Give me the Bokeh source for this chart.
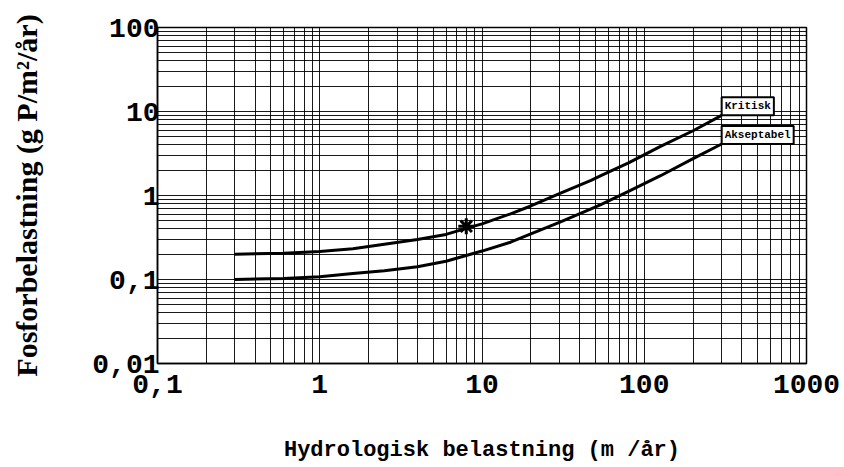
from bokeh.plotting import figure
from bokeh.models import FixedTicker, CustomJSTickFormatter, Label
from bokeh.embed import file_html
from bokeh.resources import INLINE

# Hydraulic load (m/år)
hyd_load = [0.3, 0.6, 1.0, 1.6, 2.5, 4.0, 6.0, 8.5, 10.0, 15.0, 20.0, 30.0, 47.0, 54.0, 80.0, 126.0, 200.0, 300.0]
# Critical phosphorus load (g P/m2/år)
kritisk = [0.20, 0.205, 0.215, 0.232, 0.263, 0.30, 0.344, 0.42, 0.46, 0.605, 0.75, 1.05, 1.51, 1.72, 2.45, 3.85, 5.9, 9.0]
# Acceptable phosphorus load (g P/m2/år)
akseptabel = [0.10, 0.103, 0.108, 0.118, 0.127, 0.142, 0.165, 0.20, 0.218, 0.278, 0.35, 0.48, 0.695, 0.78, 1.12, 1.72, 2.75, 4.1]
# Marked lake
point_x = [8.0]
point_y = [0.43]

x_major = [0.1, 1, 10, 100, 1000]
y_major = [0.01, 0.1, 1, 10, 100]

x_minor = [m * 10.0 ** e for e in range(-1, 3) for m in range(2, 10)]
y_minor = [m * 10.0 ** e for e in range(-2, 2) for m in range(2, 10)]

p = figure(width=844, height=467, x_axis_type="log", y_axis_type="log",
           x_range=(0.1, 1000), y_range=(0.01, 100),
           output_backend="svg", toolbar_location=None,
           min_border_left=157, min_border_right=38,
           min_border_top=27, min_border_bottom=104)

xt = FixedTicker(ticks=x_major, minor_ticks=x_minor)
yt = FixedTicker(ticks=y_major, minor_ticks=y_minor)
p.xaxis.ticker = xt
p.yaxis.ticker = yt
p.xgrid.ticker = xt
p.ygrid.ticker = yt

fmt = CustomJSTickFormatter(code="return tick.toString().replace('.', ',')")
p.xaxis.formatter = fmt
p.yaxis.formatter = fmt

for g in (p.xgrid, p.ygrid):
    g.grid_line_color = "black"
    g.grid_line_alpha = 0.9
    g.grid_line_width = 1
    g.minor_grid_line_color = "black"
    g.minor_grid_line_alpha = 0.9
    g.minor_grid_line_width = 1

for ax in (p.xaxis, p.yaxis):
    ax.major_tick_in = 0
    ax.major_tick_out = 0
    ax.minor_tick_in = 0
    ax.minor_tick_out = 0
    ax.axis_line_color = "black"
    ax.axis_line_width = 1.5
    ax.major_label_text_font = "Liberation Mono"
    ax.major_label_text_font_style = "bold"
    ax.major_label_text_font_size = "28px"
    ax.major_label_text_color = "black"

p.xaxis.major_label_standoff = 11
p.yaxis.major_label_standoff = -2

p.xaxis.axis_label = "Hydrologisk belastning (m /år)"
p.xaxis.axis_label_text_font = "Liberation Mono"
p.xaxis.axis_label_text_font_style = "bold"
p.xaxis.axis_label_text_font_size = "22px"
p.xaxis.axis_label_standoff = 42
p.xaxis.axis_label_text_color = "black"

p.yaxis.axis_label = "Fosforbelastning (g P/m²/år)"
p.yaxis.axis_label_text_font = "Liberation Serif"
p.yaxis.axis_label_text_font_style = "bold"
p.yaxis.axis_label_text_font_size = "30px"
p.yaxis.axis_label_standoff = 46
p.yaxis.axis_label_text_color = "black"

p.outline_line_color = "black"
p.outline_line_width = 1.5
p.outline_line_alpha = 1

p.line(hyd_load, kritisk, line_color="black", line_width=3, line_join="round")
p.line(hyd_load, akseptabel, line_color="black", line_width=3, line_join="round")
p.scatter(point_x, point_y, marker="asterisk", size=16, line_color="black", line_width=3)

for txt, yv in (("Kritisk", kritisk[-1]), ("Akseptabel", akseptabel[-1])):
    p.add_layout(Label(x=hyd_load[-1], y=yv, text=txt,
                       text_font="Liberation Mono", text_font_style="bold",
                       text_font_size="11px", text_color="black",
                       text_align="left", text_baseline="bottom",
                       background_fill_color="white", background_fill_alpha=1,
                       border_line_color="black", border_line_width=2,
                       padding=3))

open("out.html", "w").write(file_html(p, INLINE))
